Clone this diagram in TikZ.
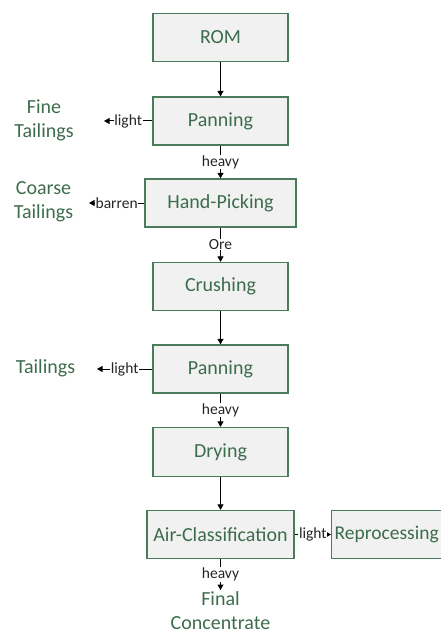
\documentclass[tikz,border=0pt]{standalone}
\usepackage{fontspec}
\setmainfont{Carlito}
\usetikzlibrary{arrows.meta}
\definecolor{boxline}{HTML}{4A7B5A}
\definecolor{boxfill}{HTML}{F1F1F1}
\definecolor{boxtext}{HTML}{3D6C4D}
\definecolor{flowtext}{HTML}{262626}
\begin{document}
\begin{tikzpicture}[x=1pt,y=-1pt,
  stepbox/.style={draw=boxline,line width=1.3pt,fill=boxfill,text=boxtext,
    font=\fontsize{20}{24}\selectfont,minimum width=135pt,minimum height=48pt,
    inner sep=0pt,anchor=center},
  outlabel/.style={text=boxtext,font=\fontsize{20}{24}\selectfont,align=center,inner sep=0pt},
  flow/.style={draw=black,line width=1pt,-{Triangle[length=5.5pt,width=6pt]}},
  tag/.style={fill=white,text=flowtext,font=\fontsize{15.5}{17}\selectfont,inner sep=0.6pt}]
\useasboundingbox (0,0) rectangle (441,639);
\begin{scope}
\clip (0,0) rectangle (441,639);
% main column of process steps
\node[stepbox] (rom)   at (220.5,37.5) {ROM};
\node[stepbox] (pan1)  at (220.5,121) {Panning};
\node[stepbox,minimum width=151pt] (hand) at (220.5,203) {Hand-Picking};
\node[stepbox] (crush) at (220.5,286.5) {Crushing};
\node[stepbox] (pan2)  at (220.5,369) {Panning};
\node[stepbox,minimum height=49pt] (dry) at (220.5,452) {Drying};
\node[stepbox,minimum width=147pt] (air) at (220.5,534.5) {Air-Classification};
\node[stepbox,minimum width=120pt,anchor=west,align=left,text width=114pt]
  (repro) at (331,534.5) {\fontsize{19.5}{24}\selectfont Reprocessing};
\end{scope}
% product streams
\node[outlabel] (fine)   at (44,120) {Fine\\Tailings};
\node[outlabel] (coarse) at (43.5,202) {Coarse\\Tailings};
\node[outlabel] (tail)   at (45.5,368) {Tailings};
\node[outlabel,anchor=north] (final) at (220.5,591) {Final\\Concentrate};
% arrow end points beside the product labels
\coordinate (fineend)   at (104,121);
\coordinate (coarseend) at (89,203);
\coordinate (tailend)   at (97,369);
\coordinate (finalend)  at (220.5,590);
% connectors
\draw[flow] (rom) -- (pan1);
\draw[flow] (pan1) -- node[tag] {heavy} (hand);
\draw[flow] (hand) -- node[tag] {Ore} (crush);
\draw[flow] (crush) -- (pan2);
\draw[flow] (pan2) -- node[tag] {heavy} (dry);
\draw[flow] (dry) -- (air);
\draw[flow] (air.south) -- node[tag] {heavy} (finalend);
\draw[flow] (air) -- node[tag] {light} (repro);
\draw[flow] (pan1.west) -- node[tag] {light} (fineend);
\draw[flow] (hand.west) -- node[tag] {barren} (coarseend);
\draw[flow] (pan2.west) -- node[tag] {light} (tailend);
\end{tikzpicture}
\end{document}
